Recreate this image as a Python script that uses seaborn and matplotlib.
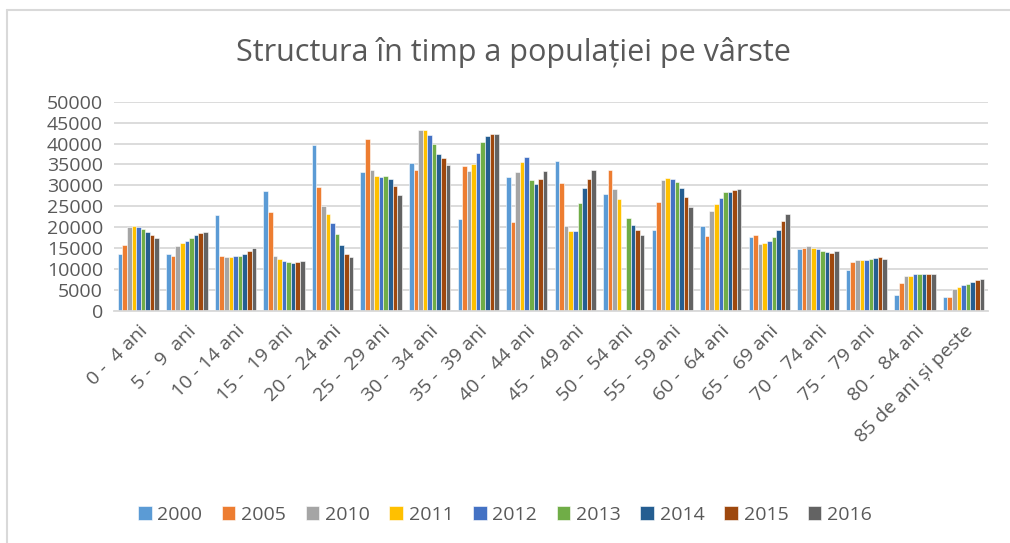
import numpy as np
import pandas as pd
import matplotlib
matplotlib.use("Agg")
import matplotlib.pyplot as plt
import seaborn as sns

# Date
grupe = ["0 -  4 ani", "5 -  9  ani", "10 - 14 ani", "15 -  19 ani", "20 -  24 ani",
         "25 -  29 ani", "30 -  34 ani", "35 -  39 ani", "40 -  44 ani", "45 -  49 ani",
         "50 -  54 ani", "55 -  59 ani", "60 -  64 ani", "65 -  69 ani", "70 -  74 ani",
         "75 -  79 ani", "80 -  84 ani", "85 de ani și peste"]
ani = ["2000", "2005", "2010", "2011", "2012", "2013", "2014", "2015", "2016"]

v2000 = [13600, 13600, 23000, 28700, 39600, 33300, 35400, 21900, 31900, 35900, 27900, 19300, 20200, 17600, 14900, 9800, 3800, 3300]
v2005 = [15800, 13100, 13100, 23600, 29600, 41200, 33800, 34600, 21200, 30500, 33800, 26000, 17800, 18100, 15000, 11700, 6700, 3300]
v2010 = [20100, 15600, 12900, 13100, 25000, 33600, 43200, 33400, 33300, 20400, 29100, 31400, 23900, 15900, 15600, 12100, 8300, 5200]
v2011 = [20300, 16200, 13000, 12500, 23200, 32200, 43300, 35100, 35500, 19100, 26800, 31700, 25600, 16300, 15000, 12200, 8400, 5700]
v2012 = [20100, 16700, 13100, 11900, 21100, 32000, 42000, 37700, 36700, 19100, np.nan, 31600, 26900, 16800, 14900, 12200, 8800, 6100]
v2013 = [19600, 17500, 13200, 11700, 18500, 32200, 39800, 40400, 31300, 25900, 22200, 30800, 28400, 17700, 14300, 12400, 8800, 6400]
v2014 = [18800, 18100, 13700, 11500, 15800, 31500, 37500, 41900, 30300, 29300, 20500, 29500, 28500, 19400, 14100, 12700, 8800, 6900]
v2015 = [18100, 18600, 14300, 11700, 13600, 29900, 36500, 42200, 31600, 31500, 19400, 27200, 29000, 21600, 13900, 12800, 8800, 7300]
v2016 = [17500, 18800, 15000, 11900, 12800, 27700, 34900, 42200, 33400, 33700, 18100, 24900, 29200, 23200, 14300, 12400, 8800, 7600]

serii = [v2000, v2005, v2010, v2011, v2012, v2013, v2014, v2015, v2016]
culori = ["#5B9BD5", "#ED7D31", "#A5A5A5", "#FFC000", "#4472C4",
          "#70AD47", "#255E91", "#9E480E", "#636363"]

df = pd.DataFrame({
    "grupa": np.tile(grupe, len(ani)),
    "an": np.repeat(ani, len(grupe)),
    "populatie": np.concatenate(serii),
})

sns.set_style("white")
plt.rcParams["font.family"] = ["Open Sans", "DejaVu Sans"]
gri = "#595959"

fig = plt.figure(figsize=(10.1, 5.43), dpi=100)
ax = fig.add_axes([0.113, 0.4273, 0.865, 0.3854])

sns.barplot(data=df, x="grupa", y="populatie", hue="an", hue_order=ani,
            order=grupe, palette=culori, saturation=1, width=0.85,
            edgecolor="white", linewidth=0.4, errorbar=None, ax=ax)

ax.set_ylim(0, 50000)
ax.set_xlim(-0.5, len(grupe) - 0.5)
ax.set_yticks(np.arange(0, 50001, 5000))
ax.yaxis.grid(True, color="#d9d9d9", linewidth=1.3)
ax.set_axisbelow(True)
for s in ["top", "right", "left"]:
    ax.spines[s].set_visible(False)
ax.spines["bottom"].set_color("#d9d9d9")
ax.spines["bottom"].set_linewidth(1.3)
ax.tick_params(axis="both", length=0, labelsize=14, colors=gri, pad=8)
ax.set_xlabel("")
ax.set_ylabel("")
plt.setp(ax.get_xticklabels(), rotation=45, ha="right", rotation_mode="anchor")

fig.text(0.508, 0.904, "Structura în timp a populației pe vârste", fontsize=22,
         color=gri, ha="center", va="center")

handles, labels = ax.get_legend_handles_labels()
ax.get_legend().remove()
fig.legend(handles, labels, loc="center", bbox_to_anchor=(0.5, 0.052), ncol=9,
           frameon=False, fontsize=14, labelcolor=gri, handlelength=0.7,
           handleheight=0.7, handletextpad=0.3, columnspacing=1.0)

# chenarul graficului
fig.add_artist(plt.Line2D([0.007, 0.007], [0, 0.982], color="#d9d9d9", lw=1.5))
fig.add_artist(plt.Line2D([0.007, 1.0], [0.982, 0.982], color="#d9d9d9", lw=1.5))

fig.savefig("out.png", dpi=100, facecolor="white")
